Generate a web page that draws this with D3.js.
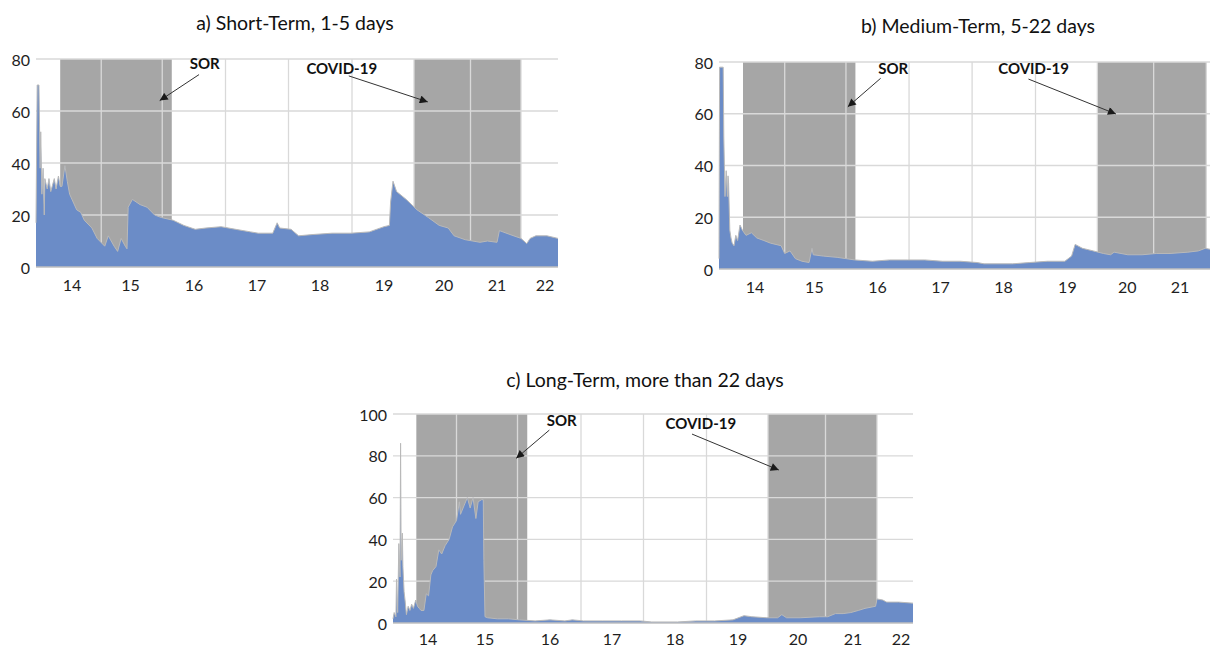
<!DOCTYPE html>
<html>
<head>
<meta charset="utf-8">
<script src="https://cdn.jsdelivr.net/npm/d3@7"></script>
<style>
  body { margin: 0; background: #fff; }
  svg { display: block; font-family: Lato, "Open Sans", sans-serif; }
</style>
</head>
<body>
<svg id="chart" width="1210" height="646"></svg>
<script>
// year labels on the x axis ("14" = 2014) and gridlines half way between them
const yearTicks = [14, 15, 16, 17, 18, 19, 20, 21, 22];
const gridYears = [14.5, 15.5, 16.5, 17.5, 18.5, 19.5, 20.5, 21.5];
const shadedPeriods = [[13.8, 15.65], [19.5, 21.5]];
const ticks80 = [0, 20, 40, 60, 80];
const ticks100 = [0, 20, 40, 60, 80, 100];

// a) short-term, 1-5 days
const shortYears = [13.39, 13.41, 13.44, 13.46, 13.47, 13.49, 13.51, 13.53, 13.54, 13.58, 13.61, 13.64, 13.70, 13.73, 13.77, 13.80, 13.83, 13.88, 13.92, 13.96,
  14.02, 14.08, 14.15, 14.21, 14.34, 14.43, 14.56, 14.62, 14.72, 14.78, 14.84, 14.91, 14.94, 14.96, 15.03, 15.15, 15.26, 15.38, 15.49, 15.67,
  15.84, 16.02, 16.19, 16.43, 16.66, 16.90, 17.02, 17.25, 17.32, 17.36, 17.54, 17.66, 17.89, 18.19, 18.48, 18.77, 19.00, 19.09, 19.11, 19.15,
  19.21, 19.37, 19.55, 19.74, 19.92, 20.08, 20.19, 20.40, 20.68, 20.82, 21.00, 21.05, 21.27, 21.50, 21.62, 21.69, 21.81, 22.04, 22.27];
const shortValues = [17, 70, 70, 38, 52, 28, 38, 20, 34, 30, 34, 29, 34, 30, 35, 31, 31, 39, 33, 28,
  25, 22, 21, 18, 15, 11, 8, 12, 8, 6, 11, 8, 7, 23, 26, 24, 23, 20, 19, 18,
  16, 14.5, 15, 15.5, 14.5, 13.5, 13, 13, 17, 15, 14.5, 12, 12.5, 13, 13, 13.5, 15.5, 16, 25, 33,
  29, 26, 22, 19, 16, 15, 12, 10.5, 9.5, 10, 9.5, 14, 12.5, 11, 9, 11, 12, 12, 11];

// b) medium-term, 5-22 days
const mediumYears = [13.40, 13.41, 13.47, 13.48, 13.50, 13.52, 13.54, 13.55, 13.56, 13.58, 13.60, 13.62, 13.65, 13.68, 13.71, 13.75, 13.79, 13.85, 13.94, 14.03,
  14.15, 14.26, 14.44, 14.50, 14.59, 14.68, 14.79, 14.91, 14.96, 14.98, 15.14, 15.36, 15.64, 15.92, 16.19, 16.47, 16.75, 17.03, 17.31, 17.58,
  17.69, 18.14, 18.41, 18.69, 18.96, 19.07, 19.13, 19.25, 19.43, 19.60, 19.72, 19.78, 20.01, 20.28, 20.55, 20.81, 21.15, 21.35, 21.48, 21.60];
const mediumValues = [4, 78, 78, 51, 28, 38, 28, 36, 33, 15, 12, 10, 9, 13, 11, 17, 15, 13, 14, 12,
  11, 10, 9, 6, 7, 4, 3, 2.5, 8, 5.5, 5, 4.5, 3.5, 3, 3.5, 3.5, 3.5, 3, 3, 2.5,
  2, 2, 2.5, 3, 3, 5, 9.5, 8, 7, 6, 5.5, 6.5, 5.5, 5.5, 6, 6, 6.5, 7, 8, 7.5];

// c) long-term, more than 22 days
const longYears = [13.40, 13.42, 13.45, 13.46, 13.48, 13.50, 13.52, 13.53, 13.54, 13.56, 13.57, 13.59, 13.61, 13.63, 13.66, 13.69, 13.72, 13.75, 13.79, 13.82,
  13.85, 13.88, 13.93, 13.97, 14.01, 14.05, 14.08, 14.14, 14.19, 14.24, 14.30, 14.37, 14.43, 14.50, 14.55, 14.57, 14.63, 14.69, 14.74, 14.79,
  14.84, 14.88, 14.94, 14.97, 14.98, 15.00, 15.04, 15.19, 15.36, 15.53, 15.77, 16.00, 16.24, 16.36, 16.54, 16.84, 17.15, 17.45, 17.63, 18.04,
  18.33, 18.63, 18.92, 19.10, 19.23, 19.48, 19.66, 19.73, 19.81, 20.04, 20.39, 20.54, 20.68, 20.82, 20.96, 21.11, 21.25, 21.47, 21.50, 21.62,
  21.70, 21.95, 22.25];
const longValues = [2, 5, 3, 21, 5, 38, 22, 86, 30, 43, 27, 15, 10, 4, 8, 6, 9, 7, 11, 8,
  7, 6, 6, 14, 13, 23, 25, 27, 35, 33, 37, 40, 46, 49, 58, 52, 56, 60, 55, 60,
  50, 58, 59, 59, 30, 3, 2.5, 2, 2, 1.5, 1, 1.5, 1, 1.5, 1, 1, 1, 1, 0.5, 0.5,
  1, 1, 1.5, 3.5, 3, 2.5, 2.5, 4, 2.5, 2.5, 3, 3, 4.5, 4.5, 5, 6, 7, 8, 11.5, 11,
  10, 10, 9.5];

const colors = { area: "#6b8cc7", areaEdge: "#b9b9b9", shade: "#a6a6a6", grid: "#d9d9d9", axis: "#bfbfbf", text: "#1e1e1e" };

const panels = [
  { title: "a) Short-Term, 1-5 days", titlePos: [295, 22], years: shortYears, values: shortValues, yTicks: ticks80,
    xEnd: 22.27, xRange: [36, 72, 130.5, 194, 257, 320, 384, 444, 497, 545, 558], yRange: [267, 59], labelY: 284,
    notes: [{ text: "SOR", at: [16.17, 78.5], from: [16.08, 74], to: [15.46, 64] },
            { text: "COVID-19", at: [18.34, 76.5], from: [18.45, 73.5], to: [19.73, 63.5] }] },
  { title: "b) Medium-Term, 5-22 days", titlePos: [978, 25], years: mediumYears, values: mediumValues, yTicks: ticks80,
    xEnd: 22.27, xRange: [719, 755, 814.4, 877.5, 940.6, 1003.6, 1067.4, 1127.3, 1180, 1232.6, 1247], yRange: [269, 62], labelY: 286,
    notes: [{ text: "SOR", at: [16.25, 77.7], from: [16.05, 73.7], to: [15.53, 62.7] },
            { text: "COVID-19", at: [18.47, 77.7], from: [18.39, 73.4], to: [19.81, 59.9] }] },
  { title: "c) Long-Term, more than 22 days", titlePos: [645, 379], years: longYears, values: longValues, yTicks: ticks100,
    xEnd: 22.25, xRange: [393, 428, 485, 550, 612, 675, 738, 798, 853, 901, 913], yRange: [623, 414], labelY: 638,
    notes: [{ text: "SOR", at: [16.19, 97.1], from: [15.99, 92.3], to: [15.48, 78.8] },
            { text: "COVID-19", at: [18.41, 95.5], from: [18.27, 90.4], to: [19.68, 73.2] }] }
];

const svg = d3.select("#chart");
const svgWidth = +svg.attr("width");

svg.append("defs").append("marker")
    .attr("id", "arrow")
    .attr("viewBox", "0 0 10 10")
    .attr("refX", 10).attr("refY", 5)
    .attr("markerWidth", 9).attr("markerHeight", 8)
    .attr("markerUnits", "userSpaceOnUse")
    .attr("orient", "auto")
  .append("path")
    .attr("d", "M0,0 L10,5 L0,10 z")
    .attr("fill", "#1a1a1a");

panels.forEach(p => {
    const x = d3.scaleLinear()
        .domain([p.years[0], ...yearTicks, p.xEnd])
        .range(p.xRange);
    const y = d3.scaleLinear()
        .domain([0, d3.max(p.yTicks)])
        .range(p.yRange);

    const g = svg.append("g");
    const x0 = x(p.years[0]), x1 = x(p.xEnd);

    g.append("text")
        .attr("x", p.titlePos[0]).attr("y", p.titlePos[1])
        .attr("text-anchor", "middle").attr("dominant-baseline", "central")
        .attr("font-size", "19.5px").attr("fill", "#111")
        .text(p.title);

    // grey shaded periods (SOR and COVID-19)
    g.selectAll(".shade")
        .data(shadedPeriods)
        .enter().append("rect")
        .attr("x", d => x(d[0]))
        .attr("width", d => x(d[1]) - x(d[0]))
        .attr("y", y(d3.max(p.yTicks)))
        .attr("height", y(0) - y(d3.max(p.yTicks)))
        .attr("fill", colors.shade);

    // gridlines
    g.selectAll(".hgrid")
        .data(p.yTicks.filter(d => d > 0))
        .enter().append("line")
        .attr("x1", x0).attr("x2", x1)
        .attr("y1", d => y(d)).attr("y2", d => y(d))
        .attr("stroke", colors.grid).attr("stroke-width", 1.3);

    g.selectAll(".vgrid")
        .data(gridYears)
        .enter().append("line")
        .attr("x1", d => x(d)).attr("x2", d => x(d))
        .attr("y1", y(d3.max(p.yTicks))).attr("y2", y(0))
        .attr("stroke", colors.grid).attr("stroke-width", 1.3);

    const pts = p.years.map((yr, i) => [yr, p.values[i]]);

    g.append("path")
        .datum(pts)
        .attr("fill", colors.area)
        .attr("d", d3.area().x(d => x(d[0])).y0(y(0)).y1(d => y(d[1])));

    g.append("path")
        .datum(pts)
        .attr("fill", "none")
        .attr("stroke", colors.areaEdge)
        .attr("stroke-width", 1)
        .attr("d", d3.line().x(d => x(d[0])).y(d => y(d[1])));

    g.append("line")
        .attr("x1", x0).attr("x2", x1)
        .attr("y1", y(0)).attr("y2", y(0))
        .attr("stroke", colors.axis).attr("stroke-width", 1.3);

    // axis labels
    g.selectAll(".ylab")
        .data(p.yTicks)
        .enter().append("text")
        .attr("x", x0 - 6)
        .attr("y", d => y(d))
        .attr("text-anchor", "end").attr("dominant-baseline", "central")
        .attr("font-size", "16px").attr("fill", colors.text)
        .text(d => d);

    // the medium-term panel runs off the right edge of the picture
    g.selectAll(".xlab")
        .data(yearTicks.filter(d => x(d) + 10 < svgWidth))
        .enter().append("text")
        .attr("x", d => x(d))
        .attr("y", p.labelY)
        .attr("text-anchor", "middle").attr("dominant-baseline", "central")
        .attr("font-size", "16px").attr("fill", colors.text)
        .text(d => d);

    // SOR / COVID-19 notes
    p.notes.forEach(n => {
        g.append("text")
            .attr("x", x(n.at[0])).attr("y", y(n.at[1]))
            .attr("text-anchor", "middle").attr("dominant-baseline", "central")
            .attr("font-size", "15px").attr("font-weight", "bold").attr("fill", "#111")
            .text(n.text);
        g.append("line")
            .attr("x1", x(n.from[0])).attr("y1", y(n.from[1]))
            .attr("x2", x(n.to[0])).attr("y2", y(n.to[1]))
            .attr("stroke", "#333").attr("stroke-width", 1)
            .attr("marker-end", "url(#arrow)");
    });
});
</script>
</body>
</html>
